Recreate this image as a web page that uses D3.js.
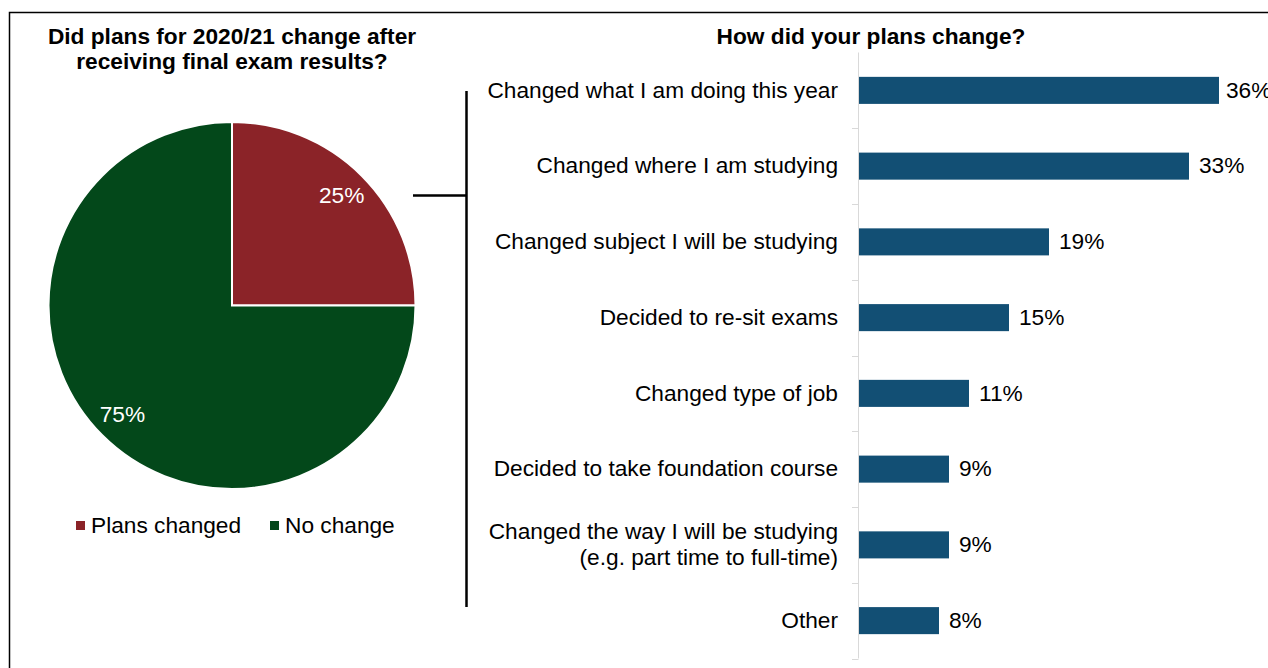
<!DOCTYPE html>
<html>
<head>
<meta charset="UTF-8">
<script src="https://cdn.jsdelivr.net/npm/d3@7"></script>
<style>
  body { margin: 0; background: #fff; }
  svg { display: block; font-family: "Liberation Sans", Arial, sans-serif; }
</style>
</head>
<body>
<svg id="chart" width="1268" height="668"></svg>
<script>
// pie data
var pieLabels = ["Plans changed", "No change"];
var pieValues = [25, 75];
var pieColors = ["#8b2328", "#03481a"];

// bar data
var barCategories = [
  ["Changed what I am doing this year"],
  ["Changed where I am studying"],
  ["Changed subject I will be studying"],
  ["Decided to re-sit exams"],
  ["Changed type of job"],
  ["Decided to take foundation course"],
  ["Changed the way I will be studying", "(e.g. part time to full-time)"],
  ["Other"]
];
var barValues = [36, 33, 19, 15, 11, 9, 9, 8];

var fs = 22.7;
var svg = d3.select("#chart");

// outer frame (bottom and right run off the picture)
svg.append("path")
  .attr("d", "M9.5,680V12.5H1280")
  .attr("fill", "none").attr("stroke", "#000").attr("stroke-width", 1.5);

// ---- left: pie ----
svg.append("text").attr("x", 232).attr("y", 44)
  .attr("text-anchor", "middle").attr("font-size", fs).attr("font-weight", "bold")
  .selectAll("tspan").data(["Did plans for 2020/21 change after", "receiving final exam results?"])
  .enter().append("tspan").attr("x", 232).attr("dy", function(d, i){ return i ? 25 : 0; })
  .text(function(d){ return d; });

var cx = 232, cy = 305.5, r = 183.5;
var pie = d3.pie().sort(null);
var arc = d3.arc().innerRadius(0).outerRadius(r);
var labelArc = d3.arc().innerRadius(155).outerRadius(155);
var pg = svg.append("g").attr("transform", "translate(" + cx + "," + cy + ")");
var slices = pie(pieValues);
pg.selectAll("path").data(slices).enter().append("path")
  .attr("d", arc)
  .attr("fill", function(d, i){ return pieColors[i]; })
  .attr("stroke", "#fff").attr("stroke-width", 2);
pg.selectAll("text").data(slices).enter().append("text")
  .attr("transform", function(d){ return "translate(" + labelArc.centroid(d) + ")"; })
  .attr("text-anchor", "middle").attr("dy", "0.32em")
  .attr("fill", "#fff").attr("font-size", fs)
  .text(function(d){ return d.value + "%"; });

// legend
var legX = [76, 270];
var lg = svg.append("g");
pieLabels.forEach(function(l, i){
  lg.append("rect").attr("x", legX[i]).attr("y", 521).attr("width", 9).attr("height", 9)
    .attr("fill", pieColors[i]);
  lg.append("text").attr("x", legX[i] + 15).attr("y", 533)
    .attr("font-size", fs).attr("fill", "#000").text(l);
});

// bracket connector
svg.append("path")
  .attr("d", "M413,195.5H466.5M466.5,91V607")
  .attr("fill", "none").attr("stroke", "#000").attr("stroke-width", 2.5);

// ---- right: bar chart ----
svg.append("text").attr("x", 871).attr("y", 44)
  .attr("text-anchor", "middle").attr("font-size", fs).attr("font-weight", "bold")
  .text("How did your plans change?");

var x = d3.scaleLinear().domain([0, 36]).range([859, 1219]);
var y = d3.scaleBand().domain(d3.range(barCategories.length))
  .range([52.5, 658.5]).paddingInner(0.643).paddingOuter(0.3215);
var step = y.step();
var y0 = y.range()[0];

// axis line and boundary ticks
svg.append("line").attr("x1", 858.5).attr("x2", 858.5).attr("y1", y0).attr("y2", y.range()[1])
  .attr("stroke", "#d9d9d9").attr("stroke-width", 1);
svg.selectAll(".tick").data(d3.range(1, barCategories.length + 1)).enter().append("line")
  .attr("x1", 852).attr("x2", 858.5)
  .attr("y1", function(d){ return Math.round(y0 + d * step) + 0.5; })
  .attr("y2", function(d){ return Math.round(y0 + d * step) + 0.5; })
  .attr("stroke", "#d9d9d9").attr("stroke-width", 1);

svg.selectAll(".bar").data(barValues).enter().append("rect")
  .attr("x", x(0))
  .attr("y", function(d, i){ return y(i); })
  .attr("width", function(d){ return x(d) - x(0); })
  .attr("height", y.bandwidth())
  .attr("fill", "#124f74");

// 36% runs off the right edge, as in the original
svg.selectAll(".val").data(barValues).enter().append("text")
  .attr("x", function(d){ return x(d) + (d > 35 ? 7 : 10); })
  .attr("y", function(d, i){ return y(i) + y.bandwidth() / 2; })
  .attr("dy", "0.32em").attr("font-size", fs).attr("fill", "#000")
  .text(function(d){ return d + "%"; });

svg.selectAll(".cat").data(barCategories).enter().append("text")
  .attr("text-anchor", "end").attr("font-size", fs).attr("fill", "#000")
  .each(function(lines, i){
    var cyy = y(i) + y.bandwidth() / 2;
    var t = d3.select(this);
    lines.forEach(function(line, k){
      t.append("tspan").attr("x", 838)
        .attr("y", cyy + (k - (lines.length - 1) / 2) * 25.5)
        .attr("dy", "0.32em").text(line);
    });
  });
</script>
</body>
</html>
